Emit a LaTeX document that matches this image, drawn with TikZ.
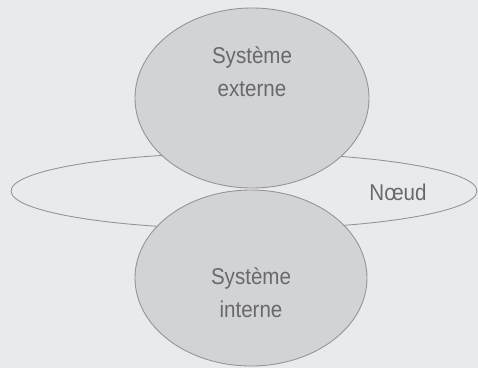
\documentclass[tikz,border=0pt]{standalone}
\usepackage{fontspec}
\setmainfont[FakeStretch=0.9]{Liberation Sans}
\usetikzlibrary{shapes.geometric}

\definecolor{pagebg}{RGB}{233,234,236}
\definecolor{sysfill}{RGB}{210,211,214}
\definecolor{sysline}{RGB}{148,148,150}
\definecolor{systext}{RGB}{105,105,108}

\tikzset{
  sys/.style={draw=sysline, fill=sysfill, ellipse, line width=0.5pt},
  ring/.style={draw=sysline, ellipse, line width=0.5pt},
  txt/.style={text=systext, align=center, font=\fontsize{13}{18.8}\selectfont}
}

\begin{document}
\begin{tikzpicture}
  \fill[pagebg] (0.00,0.00) rectangle (9.56,-7.36);
  \useasboundingbox (0.00,0.00) rectangle (9.56,-7.36);
  % the node, behind both systems
  \node[ring, minimum width=9.32cm, minimum height=1.52cm] (noeud) at (4.88,-3.82) {};
  \node[sys, minimum width=4.68cm, minimum height=3.60cm] (ext) at (5.04,-1.96) {};
  \node[sys, minimum width=4.64cm, minimum height=3.52cm] (int) at (5.02,-5.56) {};
  % labels
  \node[txt] (exttext) at (5.04,-1.44) {Système\\externe};
  \node[txt] (inttext) at (5.02,-5.86) {Système\\interne};
  \node[txt] (noeudtext) at (7.96,-3.84) {Nœud};
\end{tikzpicture}
\end{document}
